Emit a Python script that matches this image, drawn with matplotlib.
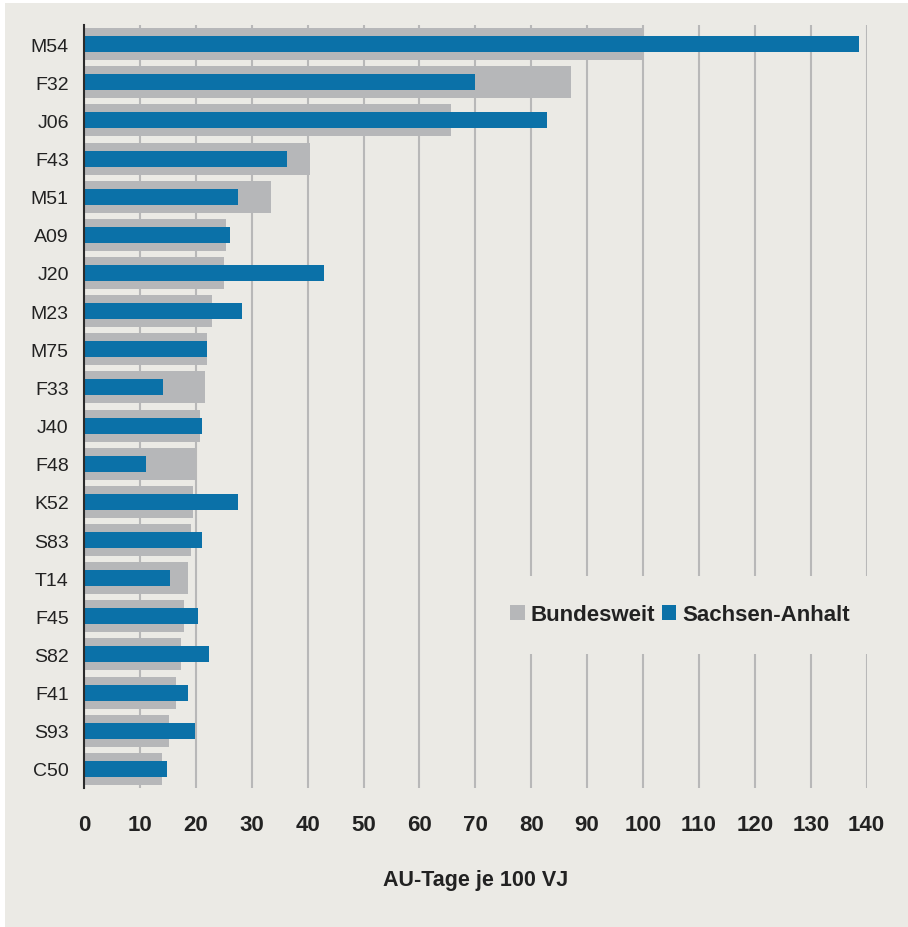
import matplotlib.pyplot as plt
from matplotlib.patches import Patch, Rectangle

# diagnoses, top to bottom
categories = ['M54', 'F32', 'J06', 'F43', 'M51', 'A09', 'J20', 'M23', 'M75', 'F33',
              'J40', 'F48', 'K52', 'S83', 'T14', 'F45', 'S82', 'F41', 'S93', 'C50']
bundesweit = [100.0, 87.1, 65.7, 40.4, 33.5, 25.4, 25.0, 22.9, 22.0, 21.6,
              20.8, 20.0, 19.5, 19.1, 18.6, 17.9, 17.4, 16.5, 15.2, 14.0]
sachsen_anhalt = [138.6, 69.9, 82.8, 36.3, 27.5, 26.1, 42.9, 28.3, 22.0, 14.1,
                  21.1, 11.1, 27.5, 21.1, 15.4, 20.4, 22.4, 18.6, 19.9, 14.8]
xticks = list(range(0, 150, 10))

bg = '#ebeae5'
grey = '#b6b7b9'
blue = '#0b71a8'
txt = '#222222'

fig = plt.figure(figsize=(9.08, 9.28), dpi=100)
fig.patch.set_facecolor('white')
# beige panel behind everything
fig.patches.append(Rectangle((5 / 908, 0), 903 / 908, 924 / 928,
                             transform=fig.transFigure, facecolor=bg,
                             edgecolor='none', zorder=-5))

ax = fig.add_axes([84 / 908, 1 - 789 / 928, (866.6 - 84) / 908, (789 - 26) / 928])
ax.set_facecolor(bg)

y = list(range(len(categories)))
ax.barh(y, bundesweit, height=0.84, color=grey, zorder=2)
ax.barh(y, sachsen_anhalt, height=0.42, color=blue, zorder=3)

ax.set_xlim(0, 140)
ax.set_ylim(19.5, -0.5)
ax.set_xticks(xticks)
ax.set_yticks(y)
ax.set_yticklabels(categories, fontsize=14, color=txt, family='Liberation Sans')
ax.set_xticklabels([str(t) for t in xticks], fontsize=16, fontweight='bold',
                   color=txt, family='Liberation Sans')
ax.tick_params(axis='both', length=0)
ax.tick_params(axis='x', pad=19)
ax.tick_params(axis='y', pad=11)

ax.set_axisbelow(True)
ax.grid(axis='x', color='#b8b8b8', linewidth=1.5)
ax.grid(axis='y', visible=False)

for s in ['top', 'right', 'bottom']:
    ax.spines[s].set_visible(False)
ax.spines['left'].set_color('#2b2b2b')
ax.spines['left'].set_linewidth(1.5)
ax.spines['left'].set_zorder(4)

ax.set_xlabel('AU-Tage je 100 VJ', fontsize=15.5, fontweight='bold', color=txt,
              family='Liberation Sans', labelpad=24)

handles = [Patch(facecolor=grey, edgecolor='none'), Patch(facecolor=blue, edgecolor='none')]
leg = fig.legend(handles, ['Bundesweit', 'Sachsen-Anhalt'], loc='center',
                 bbox_to_anchor=(680 / 908, 1 - 616 / 928), ncol=2,
                 prop={'family': 'Liberation Sans', 'weight': 'bold', 'size': 16},
                 handlelength=0.64, handleheight=0.64, handletextpad=0.28,
                 columnspacing=0.28, frameon=True, fancybox=False,
                 borderpad=1.3, borderaxespad=0)
leg.get_frame().set_facecolor(bg)
leg.get_frame().set_edgecolor('none')
leg.get_frame().set_alpha(1)
for t in leg.get_texts():
    t.set_color(txt)

fig.savefig('out.png', dpi=100, facecolor=fig.get_facecolor())
